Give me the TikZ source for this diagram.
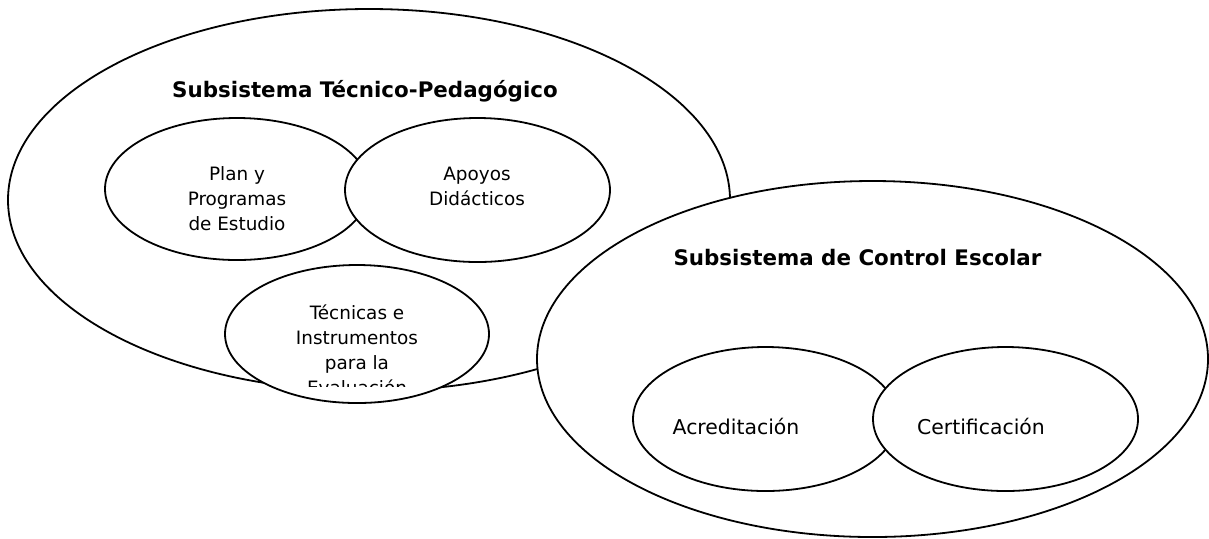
\documentclass[tikz,border=0pt]{standalone}
\usepackage{fontspec}
\setmainfont{DejaVu Sans}
\usetikzlibrary{shapes.geometric}
\begin{document}
\begin{tikzpicture}[x=0.5pt,y=-0.5pt,
  oval/.style={draw=black, fill=white, line width=0.9pt, ellipse, inner sep=0pt, outer sep=0pt},
  lbl/.style={font=\fontsize{9.2}{12.5}\selectfont, align=center, anchor=base, inner sep=0pt},
  ttl/.style={font=\bfseries\fontsize{10.7}{13}\selectfont, anchor=base, inner sep=0pt},
  lbltwo/.style={font=\fontsize{10.2}{12}\selectfont, anchor=base, inner sep=0pt}]
\useasboundingbox (0,0) rectangle (1209,538);
% left big ellipse and its contents
\node[oval, minimum width=361pt, minimum height=191pt] (tp) at (369,200) {};
\node[oval, minimum width=132pt, minimum height=71pt] (plan) at (237,189) {};
\node[oval, minimum width=132.5pt, minimum height=72pt] (apoyos) at (477.5,190) {};
\node[oval, minimum width=132pt, minimum height=69pt] (tec) at (357,334) {};
% right big ellipse and its contents
\node[oval, minimum width=335.5pt, minimum height=178pt] (ce) at (872.5,359) {};
\node[oval, minimum width=132.5pt, minimum height=72pt] (acr) at (765.5,419) {};
\node[oval, minimum width=132.5pt, minimum height=72pt] (cert) at (1005.5,419) {};
% texts (anchor=base is the baseline of the last line)
\node[ttl] (tpt) at (365,97.5) {Subsistema Técnico-Pedagógico};
\node[ttl] (cet) at (857.5,265) {Subsistema de Control Escolar};
\node[lbl] (plant) at (237,230.5) {Plan y\\Programas\\de Estudio};
\node[lbl] (apot) at (477,205) {Apoyos\\Didácticos};
\begin{scope}
  \clip (200,250) rectangle (520,386.5);
  \node[lbl] (tect) at (357,394.3) {Técnicas e\\Instrumentos\\para la\\Evaluación};
\end{scope}
\node[lbltwo] (acrt) at (736,434) {Acreditación};
\node[lbltwo] (certt) at (981,434) {Certificación};
\end{tikzpicture}
\end{document}
